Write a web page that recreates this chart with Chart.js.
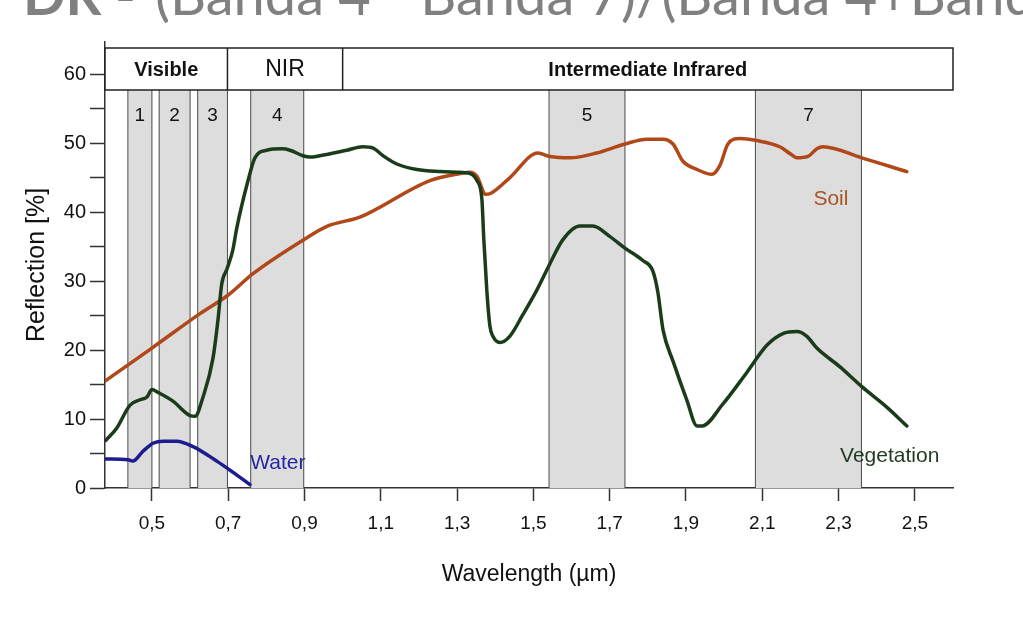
<!DOCTYPE html>
<html>
<head>
<meta charset="utf-8">
<script src="https://cdn.jsdelivr.net/npm/chart.js@4/dist/chart.umd.min.js"></script>
<style>
  html, body { margin: 0; padding: 0; background: #fff; }
</style>
</head>
<body>
<canvas id="spectra" width="1023" height="632"></canvas>
<script>
// title strip, cut off by the top edge in the original
const titleBold = 'DR -';
const titleRest = '(Banda 4 - Banda 7)/(Banda 4+Banda 7)';

// wavelength (µm) and reflection (%)
const vegWl = [0.379, 0.408, 0.442, 0.469, 0.487, 0.500, 0.515, 0.555, 0.600, 0.613, 0.634, 0.660, 0.673, 0.683, 0.697,
  0.712, 0.722, 0.752, 0.770, 0.801, 0.841, 0.862, 0.896, 0.914, 0.940, 1.011, 1.053, 1.080, 1.106, 1.142, 1.195,
  1.255, 1.300, 1.334, 1.352, 1.365, 1.370, 1.378, 1.386, 1.394, 1.412, 1.438, 1.472, 1.509, 1.543, 1.577, 1.622,
  1.656, 1.700, 1.740, 1.787, 1.813, 1.826, 1.840, 1.866, 1.902, 1.929, 1.942, 1.997, 2.060, 2.112, 2.154, 2.191,
  2.217, 2.243, 2.303, 2.361, 2.427, 2.479];
const vegRefl = [6.9, 8.7, 12.0, 12.8, 13.2, 14.3, 13.9, 12.6, 10.5, 10.4, 13.2, 18.8, 24.3, 29.6, 31.8,
  34.5, 37.6, 44.6, 47.9, 49.0, 49.2, 49.0, 48.2, 48.0, 48.2, 49.0, 49.5, 49.3, 48.2, 47.0, 46.2,
  45.9, 45.8, 45.6, 44.6, 41.9, 36.1, 28.6, 23.5, 22.0, 21.1, 22.0, 25.1, 28.7, 32.5, 36.0, 38.0,
  38.0, 36.5, 34.8, 33.0, 31.5, 28.5, 22.9, 18.4, 12.8, 9.0, 9.0, 12.2, 16.8, 20.7, 22.4, 22.7,
  22.0, 20.3, 17.6, 14.7, 11.7, 9.0];

const soilWl = [0.377, 0.500, 0.626, 0.700, 0.765, 0.900, 0.960, 1.045, 1.229, 1.307, 1.334, 1.352, 1.375, 1.390,
  1.438, 1.512, 1.543, 1.596, 1.666, 1.740, 1.798, 1.839, 1.866, 1.892, 1.929, 1.968, 1.989, 2.010, 2.041,
  2.086, 2.146, 2.178, 2.191, 2.220, 2.243, 2.259, 2.361, 2.479];
const soilRefl = [15.5, 20.3, 25.3, 28.0, 31.1, 36.1, 38.0, 39.3, 44.6, 45.6, 45.8, 45.2, 42.6, 42.8,
  45.0, 48.6, 48.1, 47.9, 48.6, 49.9, 50.6, 50.6, 49.9, 47.4, 46.2, 45.5, 46.8, 49.9, 50.7,
  50.4, 49.5, 48.3, 47.9, 48.1, 49.2, 49.5, 47.9, 45.9];

const waterWl = [0.379, 0.437, 0.450, 0.476, 0.503, 0.529, 0.565, 0.608, 0.670, 0.712, 0.757];
const waterRefl = [4.2, 4.1, 3.9, 5.3, 6.5, 6.8, 6.8, 6.0, 3.9, 2.3, 0.5];

const xTicks = [0.5, 0.7, 0.9, 1.1, 1.3, 1.5, 1.7, 1.9, 2.1, 2.3, 2.5];
const xTickLabels = ['0,5', '0,7', '0,9', '1,1', '1,3', '1,5', '1,7', '1,9', '2,1', '2,3', '2,5'];
const yTicks = [0, 5, 10, 15, 20, 25, 30, 35, 40, 45, 50, 55, 60];
const yTickLabels = ['0', '', '10', '', '20', '', '30', '', '40', '', '50', '', '60'];

// Landsat TM bands (µm)
const bandNames = ['1', '2', '3', '4', '5', '7'];
const bandStart = [0.437, 0.519, 0.620, 0.759, 1.541, 2.082];
const bandEnd = [0.500, 0.600, 0.698, 0.898, 1.740, 2.360];

const regionNames = ['Visible', 'NIR', 'Intermediate Infrared'];
const regionEdges = [0.377, 0.698, 1.0, 2.6];

const curveNames = ['Vegetation', 'Soil', 'Water'];
const curveLabelWl = [2.434, 2.28, 0.83];
const curveLabelRefl = [4.6, 41.9, 3.6];

const lineColors = ['#1b3c1b', '#b0481a', '#1c1c8e'];
const labelColors = ['#1f3a1f', '#a65426', '#2626a0'];
const sans = '"Liberation Sans", Arial, sans-serif';

const toPoints = (xs, ys) => xs.map((v, i) => ({ x: v, y: ys[i] }));

const decor = {
  id: 'decor',
  beforeDatasetsDraw(chart) {
    const { ctx, chartArea: a, scales: { x } } = chart;
    const boxTop = a.top + 6, boxBottom = a.top + 48;
    ctx.save();

    // grey band strips
    ctx.lineWidth = 1;
    ctx.strokeStyle = '#4a4a4a';
    ctx.textAlign = 'center';
    ctx.textBaseline = 'middle';
    ctx.font = '19px ' + sans;
    bandNames.forEach((name, i) => {
      const l = x.getPixelForValue(bandStart[i]);
      const r = x.getPixelForValue(bandEnd[i]);
      ctx.fillStyle = '#dddddd';
      ctx.fillRect(l, boxBottom, r - l, a.bottom - boxBottom);
      ctx.beginPath();
      ctx.moveTo(l, boxBottom); ctx.lineTo(l, a.bottom);
      ctx.moveTo(r, boxBottom); ctx.lineTo(r, a.bottom);
      ctx.stroke();
      ctx.fillStyle = '#111';
      ctx.fillText(name, (l + r) / 2, boxBottom + 26);
    });

    // header box with the spectral regions
    const regionFonts = ['bold 20px ' + sans, '23px ' + sans, 'bold 20px ' + sans];
    ctx.fillStyle = '#fff';
    ctx.fillRect(a.left, boxTop, a.right - a.left, boxBottom - boxTop);
    ctx.strokeStyle = '#222';
    ctx.lineWidth = 1.5;
    ctx.strokeRect(a.left, boxTop, a.right - a.left, boxBottom - boxTop);
    regionNames.forEach((name, i) => {
      const l = x.getPixelForValue(regionEdges[i]);
      const r = x.getPixelForValue(regionEdges[i + 1]);
      if (i > 0) {
        ctx.beginPath();
        ctx.moveTo(l, boxTop); ctx.lineTo(l, boxBottom);
        ctx.stroke();
      }
      ctx.fillStyle = '#111';
      ctx.font = regionFonts[i];
      ctx.fillText(name, (l + r) / 2, (boxTop + boxBottom) / 2 + 1);
    });
    ctx.restore();
  },
  afterDatasetsDraw(chart) {
    const { ctx, scales: { x, y } } = chart;
    ctx.save();
    ctx.font = '21px ' + sans;
    ctx.textAlign = 'center';
    ctx.textBaseline = 'middle';
    curveNames.forEach((name, i) => {
      ctx.fillStyle = labelColors[i];
      ctx.fillText(name, x.getPixelForValue(curveLabelWl[i]), y.getPixelForValue(curveLabelRefl[i]));
    });
    ctx.restore();
  },
  afterDraw(chart) {
    const { ctx } = chart;
    ctx.save();
    ctx.fillStyle = '#808080';
    ctx.textBaseline = 'alphabetic';
    ctx.font = '56px Lato, "Open Sans", sans-serif';
    ctx.textAlign = 'left';
    ctx.fillText(titleRest, 155, 15);
    ctx.font = 'bold 56px Lato, "Open Sans", sans-serif';
    ctx.textAlign = 'right';
    ctx.fillText(titleBold, 136, 15);
    ctx.restore();
  }
};

new Chart(document.getElementById('spectra'), {
  type: 'line',
  data: {
    datasets: [
      { label: curveNames[0], data: toPoints(vegWl, vegRefl), borderColor: lineColors[0] },
      { label: curveNames[1], data: toPoints(soilWl, soilRefl), borderColor: lineColors[1] },
      { label: curveNames[2], data: toPoints(waterWl, waterRefl), borderColor: lineColors[2] },
    ],
  },
  options: {
    responsive: false,
    animation: false,
    devicePixelRatio: 1,
    layout: { padding: { top: 42, right: 70, left: 0, bottom: 0 } },
    elements: {
      point: { radius: 0 },
      line: { borderWidth: 3.5, cubicInterpolationMode: 'monotone', fill: false, borderCapStyle: 'round', borderJoinStyle: 'round' },
    },
    plugins: { legend: { display: false }, tooltip: { enabled: false } },
    scales: {
      x: {
        type: 'linear',
        min: 0.377,
        max: 2.6,
        afterFit: (s) => { s.height = 144; },
        afterBuildTicks: (s) => { s.ticks = xTicks.map(v => ({ value: v })); },
        grid: { drawOnChartArea: false, tickLength: 13, tickColor: '#333', tickWidth: 1.5 },
        border: { color: '#333', width: 1.5 },
        ticks: {
          padding: 11,
          color: '#111',
          font: { size: 19, family: sans },
          maxRotation: 0,
          autoSkip: false,
          callback: (v, i) => xTickLabels[i],
        },
        title: { display: true, text: 'Wavelength (µm)', color: '#111', font: { size: 23, family: sans }, padding: { top: 0, bottom: 44 } },
      },
      y: {
        min: 0,
        max: 64.7,
        afterFit: (s) => { s.width = 105; },
        afterBuildTicks: (s) => { s.ticks = yTicks.map(v => ({ value: v })); },
        grid: { drawOnChartArea: false, tickLength: 15, tickColor: '#333', tickWidth: 1.5 },
        border: { color: '#333', width: 1.5 },
        ticks: {
          padding: 4,
          color: '#111',
          font: { size: 20, family: sans },
          autoSkip: false,
          callback: (v, i) => yTickLabels[i],
        },
        title: { display: true, text: 'Reflection [%]', color: '#111', font: { size: 25, family: sans }, padding: { top: 22, bottom: 0 } },
      },
    },
  },
  plugins: [decor],
});
</script>
</body>
</html>
